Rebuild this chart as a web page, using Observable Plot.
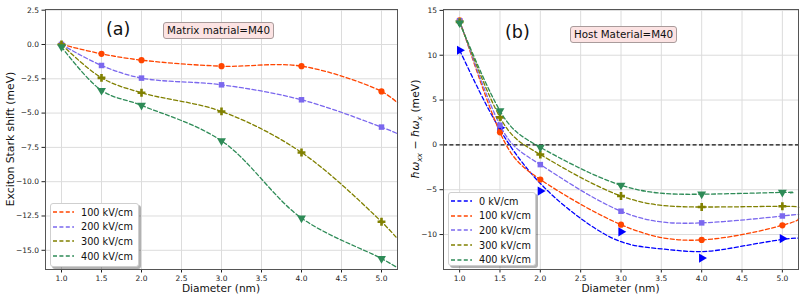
<!DOCTYPE html>
<html><head><meta charset="utf-8">
<script src="https://cdn.jsdelivr.net/npm/d3@7"></script>
<script src="https://cdn.jsdelivr.net/npm/@observablehq/plot@0.6"></script>
<style>
body{margin:0;background:#fff;font-family:"DejaVu Sans",sans-serif;}
#wrap{position:relative;width:803px;height:298px;display:flex;overflow:hidden;}
#wrap svg{display:block;}
.tag{position:absolute;font-size:17.5px;line-height:20px;color:#111;}
.box{position:absolute;font-size:10.3px;line-height:13px;padding:1px 3px;border:1px solid #a99b9b;border-radius:3px;background:#fce3e3;color:#111;white-space:nowrap;}
.legend{position:absolute;box-sizing:border-box;background:#fff;border:1px solid #cfcfcf;border-radius:3px;box-shadow:2px 2px 0 rgba(0,0,0,0.3);font-size:9.7px;padding-top:1px;}
.row{display:flex;align-items:center;height:14.6px;white-space:nowrap;color:#111;}
.row svg{margin-left:2px;margin-right:7px;}
</style>
</head><body>
<div id="wrap"></div>
<script>
// ---------- data ----------
const diameters = [1.0, 1.5, 2.0, 3.0, 4.0, 5.0];
const xTicks = [1.0, 1.5, 2.0, 2.5, 3.0, 3.5, 4.0, 4.5, 5.0];

// panel (a): exciton Stark shift (meV)
const fieldsA = ["100 kV/cm", "200 kV/cm", "300 kV/cm", "400 kV/cm"];
const starkShift100 = [0.0, -0.68, -1.14, -1.58, -1.58, -3.42];
const starkShift200 = [0.0, -1.53, -2.45, -2.94, -4.03, -6.02];
const starkShift300 = [0.0, -2.43, -3.52, -4.88, -7.87, -12.92];
const starkShift400 = [-0.17, -3.35, -4.44, -7.02, -12.65, -15.6];
const curveEndDiameterA = [5.2, 5.2, 5.2, 5.2];
const curveEndShiftA = [-4.25, -6.5, -14.16, -16.27];
const yTicksA = [2.5, 0, -2.5, -5, -7.5, -10, -12.5, -15];

// panel (b): biexciton binding (meV)
const fieldsB = ["0 kV/cm", "100 kV/cm", "200 kV/cm", "300 kV/cm", "400 kV/cm"];
const binding0 = [10.55, 1.9, -5.15, -9.7, -12.63, -10.45];
const binding100 = [13.9, 1.4, -3.86, -8.9, -10.6, -8.97];
const binding200 = [13.85, 2.2, -2.2, -7.4, -8.7, -7.93];
const binding300 = [13.7, 3.07, -1.08, -5.7, -6.93, -6.85];
const binding400 = [13.6, 3.8, -0.27, -4.5, -5.5, -5.3];
// 0 kV/cm fitted curve
const fit0Diameters = [1.0, 1.5, 2.0, 2.5, 3.0, 3.5, 4.0, 4.5, 5.0, 5.2];
const fit0Values = [10.55, 1.7, -4.3, -8.2, -10.8, -11.6, -11.9, -11.3, -10.55, -10.4];
const curveEndDiameterB = [5.2, 5.2, 5.2, 5.1];
const curveEndValueB = [-8.2, -7.75, -7.0, -5.35];
const yTicksB = [15, 10, 5, 0, -5, -10];
const zeroLevel = [0];

// ---------- styles ----------
const sq3 = Math.sqrt(3);
const triDown = {draw(c, s){const y = Math.sqrt(s/(3*sq3)); c.moveTo(0, 2*y); c.lineTo(-sq3*y, -y); c.lineTo(sq3*y, -y); c.closePath();}};
const triRight = {draw(c, s){const y = Math.sqrt(s/(3*sq3)); c.moveTo(2*y, 0); c.lineTo(-y, -sq3*y); c.lineTo(-y, sq3*y); c.closePath();}};
const seriesStyle = {
  "0 kV/cm":   {color: "#0000ff", symbol: triRight, r: 3.4},
  "100 kV/cm": {color: "#ff4500", symbol: "circle", r: 3.1},
  "200 kV/cm": {color: "#7b68ee", symbol: "square", r: 3.1},
  "300 kV/cm": {color: "#808000", symbol: "cross", r: 3.3},
  "400 kV/cm": {color: "#2e8b57", symbol: triDown, r: 3.3}
};
const dash = "4,2.4";

function rows(xs, ys) { return xs.map((d, i) => ({d, v: ys[i]})); }

function seriesMarks(name, pts, curve, curveType) {
  const st = seriesStyle[name];
  return [
    Plot.line(curve, {x: "d", y: "v", stroke: st.color, strokeWidth: 1.3, strokeDasharray: dash, curve: curveType}),
    Plot.dot(pts, {x: "d", y: "v", fill: st.color, stroke: "none", symbol: st.symbol, r: st.r})
  ];
}

function panel({width, marginLeft, marginRight, yDomain, yTicks, yFormat, marks}) {
  return Plot.plot({
    width, height: 298, marginTop: 9, marginBottom: 29, marginLeft, marginRight,
    x: {domain: [0.8, 5.2]},
    y: {domain: yDomain},
    style: {fontFamily: "DejaVu Sans", fontSize: "7.5px", color: "#222", background: "white", overflow: "visible"},
    marks: [
      Plot.gridX({ticks: xTicks, stroke: "#dcdcdc", strokeOpacity: 1, strokeWidth: 1}),
      Plot.gridY({ticks: yTicks, stroke: "#dcdcdc", strokeOpacity: 1, strokeWidth: 1}),
      ...marks,
      Plot.axisX({ticks: xTicks, tickFormat: d3.format(".1f"), tickSize: 3.5, tickPadding: 2.5, label: null}),
      Plot.axisY({ticks: yTicks, tickFormat: yFormat, tickSize: 3.5, tickPadding: 3, label: null}),
      Plot.frame({stroke: "#555"})
    ]
  });
}

// ---------- panel (a) ----------
const shiftsA = [starkShift100, starkShift200, starkShift300, starkShift400];
const marksA = [];
fieldsA.forEach((f, i) => {
  const pts = rows(diameters, shiftsA[i]);
  const curve = pts.concat([{d: curveEndDiameterA[i], v: curveEndShiftA[i]}]);
  marksA.push(...seriesMarks(f, pts, curve, "catmull-rom"));
});
const plotA = panel({width: 400, marginLeft: 45, marginRight: 3, yDomain: [-16.4, 2.55], yTicks: yTicksA, yFormat: d3.format(".1f"), marks: marksA});

// ---------- panel (b) ----------
const valuesB = [binding100, binding200, binding300, binding400];
const marksB = [Plot.ruleY(zeroLevel, {stroke: "#111", strokeWidth: 1.3, strokeDasharray: dash})];
marksB.push(...seriesMarks("0 kV/cm", rows(diameters, binding0), rows(fit0Diameters, fit0Values), "natural"));
fieldsB.slice(1).forEach((f, i) => {
  const pts = rows(diameters, valuesB[i]);
  const curve = pts.concat([{d: curveEndDiameterB[i], v: curveEndValueB[i]}]);
  marksB.push(...seriesMarks(f, pts, curve, "natural"));
});
const plotB = panel({width: 403, marginLeft: 43, marginRight: 5, yDomain: [-13.9, 15.1], yTicks: yTicksB, yFormat: d3.format("d"), marks: marksB});

// ---------- axis labels ----------
function addLabels(svgEl, yLabelX, yLabelY, yLabelBuilder) {
  const svg = d3.select(svgEl);
  const xr = svgEl.scale("x").range;
  svg.append("text").attr("x", (xr[0] + xr[1]) / 2).attr("y", 292).attr("text-anchor", "middle")
    .attr("font-size", 10.6).attr("fill", "#111").text("Diameter (nm)");
  const t = svg.append("text").attr("transform", `translate(${yLabelX},${yLabelY}) rotate(-90)`)
    .attr("text-anchor", "middle").attr("font-size", 10.8).attr("fill", "#111");
  yLabelBuilder(t);
}
const yrA = plotA.scale("y").range;
addLabels(plotA, 14, (yrA[0] + yrA[1]) / 2, t => t.text("Exciton Stark shift (meV)"));
addLabels(plotB, 19, 129, t => {
  t.append("tspan").attr("font-style", "italic").text("ħω");
  t.append("tspan").attr("font-size", 7.5).attr("dy", 2.5).attr("font-style", "italic").text("xx");
  t.append("tspan").attr("dy", -2.5).text(" − ");
  t.append("tspan").attr("font-style", "italic").text("ħω");
  t.append("tspan").attr("font-size", 7.5).attr("dy", 2.5).attr("font-style", "italic").text("x");
  t.append("tspan").attr("dy", -2.5).text(" (meV)");
});

const wrap = document.getElementById("wrap");
wrap.appendChild(plotA);
wrap.appendChild(plotB);

// ---------- annotations & legends ----------
function addDiv(cls, css, html) {
  const d = document.createElement("div");
  d.className = cls; d.style.cssText = css; d.innerHTML = html; wrap.appendChild(d); return d;
}
addDiv("tag", "left:106px;top:19px;", "(a)");
addDiv("box", "left:163px;top:22px;", "Matrix matrial=M40");
addDiv("tag", "left:505px;top:22px;", "(b)");
addDiv("box", "left:570px;top:26px;", "Host Material=M40");

function legend(css, names) {
  const lg = addDiv("legend", css, "");
  names.forEach(n => {
    const r = document.createElement("div");
    r.className = "row";
    r.innerHTML = `<svg width="21" height="6"><line x1="0" y1="3" x2="21" y2="3" stroke="${seriesStyle[n].color}" stroke-width="1.3" stroke-dasharray="${dash}"/></svg><span>${n}</span>`;
    lg.appendChild(r);
  });
}
legend("left:50px;top:203px;width:89px;height:64px;", fieldsA);
legend("left:448px;top:192px;width:88px;height:74px;", fieldsB);
</script>
</body></html>
